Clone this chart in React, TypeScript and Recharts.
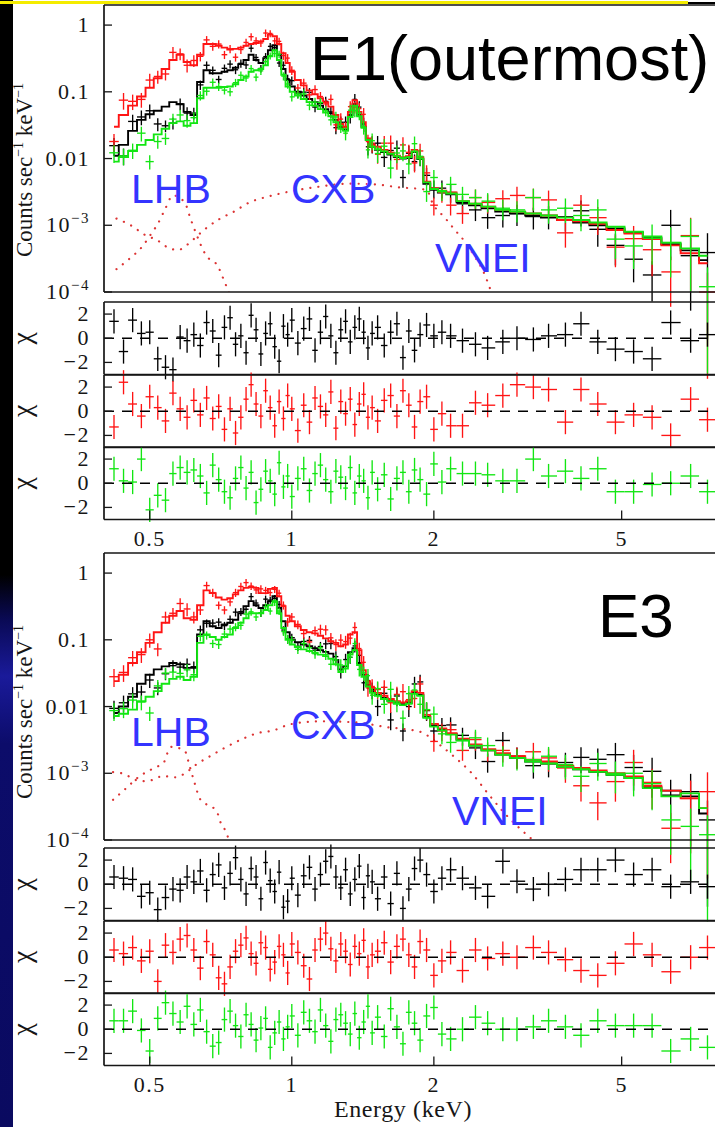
import React from 'react';
import { ComposedChart, Scatter, Line, XAxis, YAxis, ErrorBar, ReferenceLine } from 'recharts';

// energy bins (keV), shared by the spectra and the residual panels
const energy = [0.42, 0.44, 0.46, 0.48, 0.5, 0.52, 0.54, 0.56, 0.58, 0.6,
  0.62, 0.64, 0.66, 0.68, 0.7, 0.72, 0.74, 0.76, 0.78, 0.8, 0.82, 0.84, 0.86, 0.88, 0.9, 0.92, 0.94, 0.96, 0.98, 1.0,
  1.03, 1.06, 1.09, 1.12, 1.15, 1.18, 1.21, 1.24, 1.27, 1.3, 1.33, 1.36, 1.39, 1.42, 1.45, 1.48,
  1.52, 1.57, 1.62, 1.67, 1.72, 1.77, 1.82, 1.87, 1.93, 2.0, 2.08, 2.17,
  2.3, 2.45, 2.6, 2.8, 3.0, 3.25, 3.5, 3.8, 4.1, 4.45, 4.85, 5.3, 5.8, 6.35, 7.0, 7.6];

// fractional 1-sigma error of the counts in each bin
const relErr = [0.3, 0.28, 0.26, 0.25, 0.24, 0.22, 0.2, 0.2, 0.2, 0.22,
  0.2, 0.16, 0.14, 0.14, 0.14, 0.14, 0.14, 0.14, 0.14, 0.13, 0.13, 0.13, 0.13, 0.13, 0.12, 0.12, 0.13, 0.14, 0.15, 0.15,
  0.15, 0.16, 0.16, 0.16, 0.17, 0.17, 0.18, 0.2, 0.22, 0.22, 0.2, 0.2, 0.22, 0.24, 0.26, 0.28,
  0.28, 0.28, 0.3, 0.3, 0.3, 0.3, 0.28, 0.28, 0.3, 0.3, 0.3, 0.3,
  0.3, 0.32, 0.32, 0.34, 0.35, 0.36, 0.38, 0.4, 0.42, 0.45, 0.5, 0.55, 0.6, 0.7, 0.85, 0.95];

// ---- E1 (outermost) ----
const modelRedE1 = [0.03, 0.045, 0.062, 0.085, 0.115, 0.16, 0.22, 0.3, 0.36, 0.28,
  0.25, 0.36, 0.52, 0.52, 0.49, 0.46, 0.43, 0.44, 0.46, 0.49, 0.52, 0.54, 0.57, 0.62, 0.72, 0.68, 0.52, 0.38, 0.27, 0.2,
  0.15, 0.125, 0.105, 0.092, 0.08, 0.07, 0.06, 0.045, 0.033, 0.03, 0.05, 0.075, 0.05, 0.035, 0.02, 0.016,
  0.015, 0.0135, 0.0122, 0.011, 0.0105, 0.0108, 0.0135, 0.0105, 0.0045, 0.0036, 0.0033, 0.0031,
  0.0023, 0.0021, 0.0019, 0.0017, 0.0016, 0.0015, 0.0014, 0.0012, 0.00115, 0.00105, 0.00085, 0.00075, 0.00062, 0.0005, 0.00038, 0.00027];
const dataRedE1 = [0.018, 0.075, 0.072, 0.077, 0.15, 0.17, 0.185, 0.39, 0.37, 0.25,
  0.295, 0.34, 0.6, 0.48, 0.52, 0.36, 0.44, 0.33, 0.43, 0.55, 0.67, 0.58, 0.54, 0.76, 0.75, 0.58, 0.57, 0.35, 0.32, 0.21,
  0.114, 0.135, 0.09, 0.108, 0.085, 0.066, 0.077, 0.032, 0.039, 0.029, 0.06, 0.059, 0.056, 0.046, 0.018, 0.017,
  0.0116, 0.017, 0.017, 0.0097, 0.016, 0.0124, 0.0086, 0.013, 0.0061, 0.002, 0.0031, 0.002,
  0.0015, 0.0026, 0.0022, 0.0025, 0.0028, 0.0026, 0.0024, 0.00077, 0.002, 0.0013, 0.00047, 0.00063, 0.00043, 0.0002, 0.0007, 0.0001];
const modelBlackE1 = [0.011, 0.016, 0.026, 0.038, 0.046, 0.052, 0.06, 0.07, 0.065, 0.05,
  0.045, 0.14, 0.21, 0.19, 0.19, 0.2, 0.21, 0.23, 0.26, 0.3, 0.36, 0.3, 0.27, 0.32, 0.42, 0.5, 0.36, 0.22, 0.15, 0.12,
  0.1, 0.088, 0.078, 0.07, 0.062, 0.055, 0.048, 0.038, 0.03, 0.027, 0.045, 0.065, 0.045, 0.03, 0.019, 0.015,
  0.0135, 0.0125, 0.0115, 0.0105, 0.01, 0.0102, 0.0125, 0.0098, 0.0042, 0.0034, 0.0031, 0.0029,
  0.0022, 0.002, 0.0018, 0.0016, 0.0015, 0.0014, 0.0013, 0.0012, 0.0011, 0.001, 0.0009, 0.00078, 0.00065, 0.00052, 0.00042, 0.0003];
const dataBlackE1 = [0.0156, 0.011, 0.036, 0.042, 0.052, 0.033, 0.031, 0.034, 0.066, 0.048,
  0.048, 0.127, 0.25, 0.21, 0.153, 0.225, 0.26, 0.214, 0.267, 0.253, 0.45, 0.327, 0.224, 0.337, 0.48, 0.46, 0.27, 0.25, 0.157, 0.147,
  0.094, 0.099, 0.098, 0.059, 0.067, 0.072, 0.05, 0.029, 0.035, 0.035, 0.042, 0.077, 0.059, 0.033, 0.015, 0.0166,
  0.017, 0.0104, 0.0132, 0.0143, 0.0052, 0.012, 0.009, 0.0106, 0.0056, 0.0036, 0.0036, 0.0031,
  0.0021, 0.0017, 0.0013, 0.0014, 0.0015, 0.00135, 0.0014, 0.00134, 0.00165, 0.00087, 0.0005, 0.00031, 0.00018, 0.001, 0.00035, 0.00039];
const modelGreenE1 = [0.009, 0.0105, 0.013, 0.016, 0.019, 0.023, 0.028, 0.034, 0.036, 0.031,
  0.034, 0.08, 0.115, 0.115, 0.115, 0.118, 0.12, 0.13, 0.15, 0.17, 0.2, 0.21, 0.22, 0.25, 0.34, 0.42, 0.3, 0.18, 0.12, 0.1,
  0.088, 0.078, 0.07, 0.062, 0.055, 0.049, 0.043, 0.035, 0.028, 0.026, 0.042, 0.062, 0.043, 0.029, 0.019, 0.015,
  0.0138, 0.0128, 0.0118, 0.0108, 0.0102, 0.0105, 0.0128, 0.01, 0.0044, 0.0035, 0.0032, 0.003,
  0.0023, 0.0021, 0.0019, 0.0017, 0.0016, 0.0015, 0.0014, 0.0013, 0.0012, 0.0011, 0.00095, 0.0008, 0.00068, 0.00055, 0.00045, 0.00035];
const dataGreenE1 = [0.0122, 0.011, 0.0133, 0.024, 0.009, 0.018, 0.02, 0.039, 0.045, 0.037,
  0.041, 0.088, 0.102, 0.139, 0.12, 0.106, 0.1, 0.137, 0.177, 0.161, 0.223, 0.166, 0.206, 0.283, 0.348, 0.375, 0.366, 0.172, 0.131, 0.084,
  0.093, 0.093, 0.063, 0.07, 0.069, 0.052, 0.038, 0.042, 0.031, 0.024, 0.053, 0.052, 0.048, 0.03, 0.0135, 0.0185,
  0.0119, 0.0153, 0.0072, 0.0121, 0.013, 0.0083, 0.0167, 0.0108, 0.0032, 0.0052, 0.0033, 0.0041,
  0.0029, 0.0026, 0.0023, 0.0018, 0.0017, 0.0026, 0.0017, 0.0018, 0.0014, 0.0017, 0.00062, 0.00049, 0.00064, 0.00055, 0.00068, 0.00012];
const resBlackE1 = [1.4, -1.1, 1.5, 0.4, 0.5, -1.7, -2.4, -2.6, 0.1, -0.2,
  0.3, -0.6, 1.3, 0.6, -1.4, 0.9, 1.7, -0.5, 0.2, -1.2, 1.9, 0.7, -1.3, 0.4, 1.2, -0.7, -1.9, 1.0, 0.3, 1.5,
  -0.4, 0.8, 1.6, -1.0, 0.5, 1.8, 0.2, -1.2, 0.7, 1.4, -0.3, 0.9, 1.6, 0.5, -0.8, 0.4,
  0.9, -0.6, 0.5, 1.2, -1.6, 0.6, -1.0, 0.3, 1.1, 0.2, 0.5, 0.2,
  -0.2, -0.5, -0.8, -0.3, 0.0, -0.1, 0.2, 0.3, 1.2, -0.3, -0.9, -1.1, -1.7, 1.3, -0.2, 0.3];
const resRedE1 = [-1.3, 2.4, 0.6, -0.4, 1.2, 0.3, -0.8, 1.5, 0.2, -0.5,
  0.9, -0.3, 1.1, -0.6, 0.4, -1.5, 0.2, -1.8, -0.5, 1.0, 2.2, 0.6, -0.4, 1.7, 0.3, -1.2, 0.8, -0.6, 1.3, 0.2,
  -1.6, 0.5, -0.9, 1.1, 0.4, -0.3, 1.6, -1.4, 0.8, -0.2, 1.0, -1.1, 0.6, 1.4, -0.5, 0.3,
  -0.8, 0.9, 1.3, -0.4, 1.7, 0.5, -1.3, 0.8, 1.2, -1.5, -0.2, -1.2,
  -1.2, 0.7, 0.5, 1.3, 2.2, 2.0, 1.8, -0.9, 1.8, 0.6, -0.9, -0.3, -0.5, -2.0, 1.0, -0.7];
const resGreenE1 = [1.2, 0.2, 0.1, 2.0, -2.2, -1.0, -1.4, 0.8, 1.3, 0.9,
  1.1, 0.6, -0.8, 1.5, 0.3, -0.7, -1.2, 0.4, 1.3, -0.4, 0.9, -1.6, -0.5, 1.0, 0.2, -0.9, 1.7, -0.3, 0.6, -1.1,
  0.4, 1.2, -0.6, 0.8, 1.5, 0.3, -0.7, 1.0, 0.5, -0.4, 1.3, -0.8, 0.6, 0.2, -1.2, 0.9,
  -0.5, 0.7, -1.3, 0.4, 0.9, -0.7, 1.1, 0.3, -0.9, 1.6, 0.1, 1.2,
  0.8, 0.8, 0.7, 0.2, 0.2, 2.0, 0.6, 1.0, 0.4, 1.2, -0.7, -0.7, -0.1, 0.0, 0.6, -0.7];
// dotted model components
const broadE1E = [0.425, 0.458, 0.488, 0.518, 0.556, 0.576, 0.598, 0.618, 0.654, 0.701, 0.754, 0.811, 0.874, 0.948, 1.146, 1.327, 1.5, 1.69, 1.93, 1.99, 2.11, 2.21, 2.33, 2.44, 2.54, 2.66];
const broadE1V = [1.26e-3, 9.8e-4, 7.2e-4, 6.0e-4, 4.4e-4, 4.3e-4, 5.0e-4, 6.1e-4, 8.7e-4, 1.23e-3, 1.6e-3, 2.18e-3, 2.6e-3, 3.0e-3, 3.8e-3, 4.2e-3, 4.1e-3, 3.7e-3, 3.4e-3, 2.1e-3, 1.3e-3, 8.7e-4, 5.6e-4, 3.4e-4, 2.1e-4, 9e-5];
const lhbE1E = [0.425, 0.454, 0.481, 0.507, 0.518, 0.538, 0.56, 0.593, 0.61, 0.628, 0.657, 0.698, 0.721, 0.74];
const lhbE1V = [2.2e-4, 3.2e-4, 4.7e-4, 8.0e-4, 1.0e-3, 1.7e-3, 2.8e-3, 2.2e-3, 1.26e-3, 7.3e-4, 3.6e-4, 2.4e-4, 1.4e-4, 9e-5];

// ---- E3 ----
const modelRedE3 = [0.024, 0.03, 0.045, 0.065, 0.09, 0.13, 0.18, 0.23, 0.27, 0.21,
  0.2, 0.33, 0.55, 0.5, 0.43, 0.4, 0.42, 0.48, 0.55, 0.6, 0.62, 0.6, 0.5, 0.5, 0.58, 0.6, 0.45, 0.32, 0.23, 0.19,
  0.16, 0.14, 0.13, 0.125, 0.115, 0.105, 0.095, 0.09, 0.08, 0.085, 0.12, 0.13, 0.07, 0.035, 0.024, 0.019,
  0.016, 0.0145, 0.013, 0.012, 0.0115, 0.012, 0.017, 0.016, 0.0075, 0.0055, 0.0047, 0.004,
  0.0033, 0.0027, 0.0023, 0.002, 0.0018, 0.0016, 0.0015, 0.0013, 0.0012, 0.0011, 0.001, 0.0009, 0.00065, 0.00055, 0.00042, 0.0003];
const dataRedE3 = [0.028, 0.0325, 0.054, 0.06, 0.1, 0.073, 0.22, 0.25, 0.35, 0.29,
  0.22, 0.28, 0.65, 0.51, 0.33, 0.28, 0.37, 0.51, 0.63, 0.72, 0.64, 0.56, 0.58, 0.55, 0.51, 0.57, 0.5, 0.33, 0.185, 0.22,
  0.17, 0.124, 0.093, 0.137, 0.144, 0.141, 0.107, 0.085, 0.099, 0.094, 0.106, 0.153, 0.074, 0.046, 0.019, 0.02,
  0.018, 0.0194, 0.0114, 0.0152, 0.0167, 0.0127, 0.0132, 0.0218, 0.0089, 0.003, 0.0043, 0.0045,
  0.0022, 0.0032, 0.0022, 0.0022, 0.0018, 0.0021, 0.0017, 0.0012, 0.00065, 0.00036, 0.00075, 0.00145, 0.00073, 0.00015, 0.00042, 0.00053];
const modelBlackE3 = [0.008, 0.01, 0.014, 0.022, 0.03, 0.036, 0.04, 0.045, 0.043, 0.038,
  0.038, 0.12, 0.19, 0.16, 0.15, 0.17, 0.18, 0.2, 0.25, 0.32, 0.38, 0.33, 0.3, 0.33, 0.38, 0.45, 0.3, 0.19, 0.13, 0.1,
  0.092, 0.085, 0.08, 0.075, 0.07, 0.066, 0.062, 0.05, 0.036, 0.04, 0.065, 0.075, 0.045, 0.03, 0.021, 0.017,
  0.015, 0.0135, 0.0122, 0.0113, 0.0108, 0.0113, 0.016, 0.015, 0.007, 0.0052, 0.0045, 0.0039,
  0.0032, 0.0026, 0.0022, 0.0019, 0.0017, 0.0015, 0.0014, 0.00125, 0.00115, 0.00105, 0.00095, 0.00085, 0.00062, 0.00055, 0.00045, 0.00025];
const dataBlackE3 = [0.0094, 0.0114, 0.0155, 0.0165, 0.025, 0.019, 0.031, 0.041, 0.039, 0.043,
  0.0395, 0.141, 0.177, 0.178, 0.184, 0.163, 0.203, 0.26, 0.264, 0.287, 0.444, 0.356, 0.253, 0.407, 0.394, 0.418, 0.339, 0.14, 0.103, 0.1075,
  0.08, 0.0945, 0.098, 0.07, 0.0795, 0.087, 0.088, 0.056, 0.0336, 0.0506, 0.0546, 0.081, 0.0585, 0.0227, 0.0245, 0.0179,
  0.01, 0.0158, 0.0063, 0.0144, 0.0043, 0.01, 0.0218, 0.0234, 0.0087, 0.0043, 0.0052, 0.0053,
  0.0037, 0.0024, 0.0015, 0.0031, 0.0018, 0.0013, 0.0014, 0.00145, 0.00173, 0.00162, 0.0019, 0.00122, 0.00107, 0.00047, 0.00053, 0.0002];
const modelGreenE3 = [0.0072, 0.0078, 0.009, 0.012, 0.014, 0.017, 0.022, 0.026, 0.028, 0.025,
  0.028, 0.09, 0.12, 0.11, 0.1, 0.11, 0.12, 0.15, 0.18, 0.21, 0.25, 0.25, 0.25, 0.28, 0.33, 0.38, 0.25, 0.15, 0.1, 0.085,
  0.078, 0.072, 0.068, 0.064, 0.06, 0.057, 0.052, 0.043, 0.033, 0.037, 0.06, 0.07, 0.042, 0.028, 0.02, 0.016,
  0.0145, 0.013, 0.012, 0.011, 0.0105, 0.011, 0.0155, 0.0145, 0.0068, 0.005, 0.0044, 0.0038,
  0.0031, 0.0026, 0.0022, 0.0019, 0.0017, 0.0015, 0.0014, 0.00125, 0.00115, 0.00105, 0.00095, 0.00085, 0.0006, 0.00045, 0.0005, 0.0003];
const dataGreenE3 = [0.0087, 0.0093, 0.0125, 0.0117, 0.008, 0.0204, 0.0317, 0.0328, 0.0314, 0.0355,
  0.03, 0.113, 0.117, 0.088, 0.085, 0.122, 0.145, 0.156, 0.165, 0.243, 0.263, 0.22, 0.253, 0.313, 0.27, 0.366, 0.27, 0.133, 0.103, 0.099,
  0.072, 0.088, 0.076, 0.062, 0.076, 0.06, 0.043, 0.05, 0.042, 0.041, 0.055, 0.088, 0.036, 0.032, 0.029, 0.0148,
  0.0186, 0.0108, 0.0181, 0.0117, 0.0067, 0.0156, 0.0177, 0.0108, 0.009, 0.0077, 0.0039, 0.0029,
  0.0031, 0.0034, 0.0026, 0.0019, 0.0017, 0.0016, 0.0018, 0.00135, 0.0009, 0.0014, 0.001, 0.001, 0.0007, 0.0002, 0.00016, 0.00012];
const resBlackE3 = [0.6, 0.5, 0.4, -1.0, -0.7, -2.1, -1.1, -0.4, -0.5, 0.6,
  0.2, 1.1, -0.5, 0.8, 1.6, -0.3, 0.9, 2.2, 0.4, -0.8, 1.3, 0.6, -1.2, 1.8, 0.3, -0.6, 1.0, -1.9, -1.4, 0.5,
  -0.9, 0.7, 1.4, -0.4, 0.8, 1.9, 2.3, 0.6, -0.3, 1.2, -0.8, 0.4, 1.5, -1.1, 0.7, 0.2,
  -1.2, 0.6, -1.6, 0.9, -2.0, -0.4, 1.3, 2.0, 0.8, -0.6, 0.5, 1.2,
  0.5, -0.3, -1.0, 1.9, 0.25, -0.4, 0.0, 0.4, 1.2, 1.2, 2.0, 0.8, 1.2, -0.2, 0.2, -0.2];
const resRedE3 = [0.6, 0.3, 0.8, -0.3, 0.5, -2.0, 1.0, 0.4, 1.5, 1.8,
  0.6, -0.9, 1.3, 0.2, -1.7, -2.2, -0.8, 0.5, 1.0, 1.6, 0.3, -0.5, 1.2, 0.8, -1.0, -0.4, 0.9, 0.2, -1.3, 1.1,
  0.4, -0.7, -1.8, 0.6, 1.5, 2.0, 0.7, -0.3, 1.1, 0.5, -0.6, 0.9, 0.3, 1.4, -0.8, 0.2,
  0.5, 1.2, -0.4, 0.9, 1.5, 0.2, -0.8, 1.3, 0.6, -1.5, -0.3, 0.4,
  -1.1, 0.6, -0.1, 0.3, 0.0, 0.8, 0.4, -0.2, -1.1, -1.5, -0.5, 1.1, 0.2, -1.2, 0.0, 0.8];
const resGreenE3 = [0.7, 0.7, 1.5, -0.1, -1.8, 0.9, 2.2, 1.3, 0.6, 1.9,
  0.4, 1.6, -0.2, -1.4, -1.1, 0.8, 1.5, 0.3, -0.6, 1.2, 0.4, -0.9, 0.1, 0.9, -1.5, -0.3, 0.6, -0.8, 0.2, 1.1,
  -0.5, 1.4, 0.7, -0.2, 1.6, 0.3, -1.0, 0.8, 1.2, 0.5, -0.4, 1.3, -0.7, 0.6, 1.9, -0.3,
  1.0, -0.6, 1.7, 0.2, -1.2, 1.4, 0.5, -0.9, 1.1, 1.8, -0.4, -0.8,
  0.0, 1.0, 0.5, 0.0, 0.0, 0.2, 0.7, 0.2, -0.5, 0.7, 0.3, 0.3, 0.3, -1.8, -0.8, -1.5];
const broadE3E = [0.418, 0.436, 0.456, 0.476, 0.505, 0.533, 0.568, 0.59, 0.629, 0.677, 0.725, 0.784, 0.847, 0.916, 0.99, 1.146, 1.36, 1.597, 1.736, 1.886, 2.04, 2.214, 2.407, 2.602, 2.827, 3.3];
const broadE3V = [1.04e-3, 1.0e-3, 8.7e-4, 7.6e-4, 7.9e-4, 9.1e-4, 8.7e-4, 9.7e-4, 1.37e-3, 1.87e-3, 2.46e-3, 3.24e-3, 4.0e-3, 4.4e-3, 5.4e-3, 6.0e-3, 5.8e-3, 4.9e-3, 4.6e-3, 4.1e-3, 2.8e-3, 1.74e-3, 1.0e-3, 5.0e-4, 2.5e-4, 9e-5];
const lhbE3E = [0.418, 0.446, 0.472, 0.508, 0.536, 0.545, 0.556, 0.593, 0.608, 0.623, 0.638, 0.656, 0.681, 0.698, 0.707, 0.721, 0.74];
const lhbE3V = [4.0e-4, 6.0e-4, 8.65e-4, 1.18e-3, 1.47e-3, 2.0e-3, 2.49e-3, 2.17e-3, 1.25e-3, 7.0e-4, 4.2e-4, 3.5e-4, 3.07e-4, 2.4e-4, 1.8e-4, 1.44e-4, 9e-5];

// axis ticks
const xTicks = [0.5, 1, 2, 5];
const xTickText = ['0.5', '1', '2', '5'];
const xMinorTicks = [0.6, 0.7, 0.8, 0.9, 3, 4, 6, 7];
const specTicks = [1e-4, 1e-3, 0.01, 0.1, 1];
const specTickText = [['10', '−4'], ['10', '−3'], ['0.01', ''], ['0.1', ''], ['1', '']];
const specMinorTicks = [1e-4, 1e-3, 1e-2, 1e-1, 1]
  .flatMap((d) => [2, 3, 4, 5, 6, 7, 8, 9].map((k) => k * d))
  .filter((v) => v < 2);
const chiTicks = [-2, 0, 2];
const chiTickText = ['−2', '0', '2'];
const chiMinorTicks = [-1, 1];

const RED = '#ff1414';
const GREEN = '#12e612';
const BLACK = '#000000';
const BLUE = '#3434ff';
const INK = '#161616';
const DOTTED = '#dc3434';
const SERIF = '"Liberation Serif", "DejaVu Serif", serif';
const SANS = '"Liberation Sans", Arial, sans-serif';

const CHART_W = 720;
const PLOT_L = 104;
const PLOT_R = 718;
const X_DOMAIN = [0.4, 8];
const PAD = 4;
const THIN = 0.01; // axes need a non-zero size to be drawn

// half bin widths from the geometric midpoints of neighbouring bins
const xErr = energy.map((e, i) => {
  const lo = i === 0 ? e * e / Math.sqrt(e * energy[1]) : Math.sqrt(energy[i - 1] * e);
  const hi = i === energy.length - 1 ? e * e / Math.sqrt(e * energy[i - 1]) : Math.sqrt(e * energy[i + 1]);
  return [e - lo, hi - e];
});

const specRows = (vals: number[]) =>
  vals.map((v, i) => ({ e: energy[i], v, ex: xErr[i], ey: [v * relErr[i], v * relErr[i]] }));
const modelRows = (vals: number[]) => vals.map((v, i) => ({ e: energy[i], v }));
const resRows = (vals: number[]) => vals.map((v, i) => ({ e: energy[i], v, ex: xErr[i], ey: [1, 1] }));
const curveRows = (es: number[], vs: number[]) => es.map((e, i) => ({ e, v: vs[i] }));

const noDot = () => <g />;

function crosses(key: string, rows: any[], color: string) {
  return (
    <Scatter key={key} data={rows} dataKey="v" fill={color} shape={noDot} isAnimationActive={false}>
      <ErrorBar dataKey="ex" direction="x" width={0} stroke={color} strokeWidth={1.35} />
      <ErrorBar dataKey="ey" direction="y" width={0} stroke={color} strokeWidth={1.35} />
    </Scatter>
  );
}

function model(key: string, rows: any[], color: string) {
  return (
    <Line key={key} data={rows} dataKey="v" type="step" stroke={color} strokeWidth={1.9}
      dot={false} activeDot={false} isAnimationActive={false} />
  );
}

function dotted(key: string, rows: any[]) {
  return (
    <Line key={key} data={rows} dataKey="v" type="monotone" stroke={DOTTED} strokeWidth={2.2}
      strokeDasharray="0.1 8" strokeLinecap="round" dot={false} activeDot={false} isAnimationActive={false} />
  );
}

const tickFont = { fontFamily: SERIF, fontSize: 22, fill: INK, letterSpacing: 1.5 };

const xLabel = (p: any) => {
  const i = xTicks.indexOf(p.payload.value);
  return (
    <text x={p.x} y={p.y} dy={15} textAnchor="middle" {...tickFont}>
      {xTickText[i]}
    </text>
  );
};

const specLabel = (p: any) => {
  const i = specTicks.indexOf(p.payload.value);
  const [base, sup] = specTickText[i] ?? ['', ''];
  return (
    <text x={p.x} y={p.y} dy={7} textAnchor="end" {...tickFont}>
      {base}
      {sup && <tspan dy={-9} fontSize={15}>{sup}</tspan>}
    </text>
  );
};

const chiLabel = (p: any) => {
  const i = chiTicks.indexOf(p.payload.value);
  return (
    <text x={p.x} y={p.y} dy={7} textAnchor="end" {...tickFont}>
      {chiTickText[i]}
    </text>
  );
};

type AxisCfg = {
  log: boolean;
  domain: number[];
  major: number[];
  minor: number[];
  label: any;
  xLabels: boolean;
};

function frameAxes(c: AxisCfg) {
  const frame = { stroke: INK, strokeWidth: 1.7 };
  const tl = { stroke: INK, strokeWidth: 1.3 };
  const yScale = c.log ? 'log' : 'linear';
  const xCommon = { type: 'number' as const, scale: 'log' as const, domain: X_DOMAIN, allowDataOverflow: true, interval: 0, height: THIN };
  const yCommon = { type: 'number' as const, scale: yScale as any, domain: c.domain, allowDataOverflow: true, interval: 0, width: THIN };
  return [
    <XAxis key="xb" xAxisId={0} dataKey="e" orientation="bottom" {...xCommon} ticks={xTicks}
      tickSize={-9} tickMargin={20} axisLine={frame} tickLine={tl} tick={c.xLabels ? xLabel : false} />,
    <XAxis key="xbm" xAxisId="bm" orientation="bottom" {...xCommon} ticks={xMinorTicks}
      tickSize={-5} axisLine={false} tickLine={tl} tick={false} />,
    <XAxis key="xt" xAxisId="t" orientation="top" {...xCommon} ticks={xTicks}
      tickSize={-9} axisLine={frame} tickLine={tl} tick={false} />,
    <XAxis key="xtm" xAxisId="tm" orientation="top" {...xCommon} ticks={xMinorTicks}
      tickSize={-5} axisLine={false} tickLine={tl} tick={false} />,
    <YAxis key="yl" yAxisId={0} dataKey="v" orientation="left" {...yCommon} ticks={c.major}
      tickSize={-8} tickMargin={22} axisLine={frame} tickLine={tl} tick={c.label} />,
    <YAxis key="ylm" yAxisId="lm" orientation="left" {...yCommon} ticks={c.minor}
      tickSize={-4} axisLine={false} tickLine={tl} tick={false} />,
    <YAxis key="yr" yAxisId="r" orientation="right" {...yCommon} ticks={c.major}
      tickSize={-8} axisLine={frame} tickLine={tl} tick={false} />,
    <YAxis key="yrm" yAxisId="rm" orientation="right" {...yCommon} ticks={c.minor}
      tickSize={-4} axisLine={false} tickLine={tl} tick={false} />,
  ];
}

function panel(key: string, top: number, h: number, cfg: AxisCfg, series: any[]) {
  return (
    <div key={key} style={{ position: 'absolute', left: 0, top: top - PAD }}>
      <ComposedChart width={CHART_W} height={h + 2 * PAD}
        margin={{ top: PAD - 2 * THIN, bottom: PAD - 2 * THIN, left: PLOT_L - 2 * THIN, right: CHART_W - PLOT_R - 2 * THIN }}>
        {frameAxes(cfg)}
        {series}
      </ComposedChart>
    </div>
  );
}

const specCfg: AxisCfg = { log: true, domain: [1e-4, 2], major: specTicks, minor: specMinorTicks, label: specLabel, xLabels: false };
const chiCfg = (xLabels: boolean): AxisCfg => ({ log: false, domain: [-3, 3], major: chiTicks, minor: chiMinorTicks, label: chiLabel, xLabels });

function spectrum(key: string, top: number, d: any) {
  return panel(key, top, 287, specCfg, [
    dotted('lhb', curveRows(d.lhbE, d.lhbV)),
    dotted('broad', curveRows(d.broadE, d.broadV)),
    crosses('kd', specRows(d.dataBlack), BLACK),
    model('km', modelRows(d.modelBlack), BLACK),
    crosses('rd', specRows(d.dataRed), RED),
    model('rm', modelRows(d.modelRed), RED),
    crosses('gd', specRows(d.dataGreen), GREEN),
    model('gm', modelRows(d.modelGreen), GREEN),
  ]);
}

function residual(key: string, top: number, h: number, vals: number[], color: string, xLabels: boolean) {
  return panel(key, top, h, chiCfg(xLabels), [
    crosses('d', resRows(vals), color),
    <ReferenceLine key="zero" y={0} stroke={BLACK} strokeWidth={1.5} strokeDasharray="10 8" />,
  ]);
}

const RES_H = 72.5;
const topRes = [302, 302 + RES_H, 302 + 2 * RES_H];
const botRes = [848, 848 + RES_H, 848 + 2 * RES_H];

function YTitle({ y }: { y: number }) {
  return (
    <text transform={`translate(32,${y}) rotate(-90)`} textAnchor="middle" fontFamily={SERIF} fontSize={23} fill={INK}>
      Counts sec<tspan dy={-9} fontSize={14}>−1</tspan>
      <tspan dy={9}> keV</tspan>
      <tspan dy={-9} fontSize={14}>−1</tspan>
    </text>
  );
}

function Chi({ y }: { y: number }) {
  return (
    <text transform={`translate(31,${y}) rotate(-90)`} textAnchor="middle" fontFamily={SERIF} fontSize={28} fill={INK}>
      χ
    </text>
  );
}

export default function App() {
  return (
    <div style={{ position: 'absolute', left: 0, top: 0, width: 715, height: 1127, overflow: 'hidden', background: '#fff' }}>
      <style>{'.recharts-surface{overflow:visible}'}</style>
      {spectrum('s1', 5, {
        lhbE: lhbE1E, lhbV: lhbE1V, broadE: broadE1E, broadV: broadE1V,
        dataBlack: dataBlackE1, modelBlack: modelBlackE1, dataRed: dataRedE1, modelRed: modelRedE1,
        dataGreen: dataGreenE1, modelGreen: modelGreenE1,
      })}
      {residual('r1k', topRes[0], RES_H, resBlackE1, BLACK, false)}
      {residual('r1r', topRes[1], RES_H, resRedE1, RED, false)}
      {residual('r1g', topRes[2], RES_H, resGreenE1, GREEN, true)}
      {spectrum('s3', 553, {
        lhbE: lhbE3E, lhbV: lhbE3V, broadE: broadE3E, broadV: broadE3V,
        dataBlack: dataBlackE3, modelBlack: modelBlackE3, dataRed: dataRedE3, modelRed: modelRedE3,
        dataGreen: dataGreenE3, modelGreen: modelGreenE3,
      })}
      {residual('r3k', botRes[0], RES_H, resBlackE3, BLACK, false)}
      {residual('r3r', botRes[1], RES_H, resRedE3, RED, false)}
      {residual('r3g', botRes[2], RES_H, resGreenE3, GREEN, true)}

      <svg width={715} height={1127} style={{ position: 'absolute', left: 0, top: 0, pointerEvents: 'none' }}>
        <text x={310} y={80} fontFamily={SANS} fontSize={63} fill="#000">E1(outermost)</text>
        <text x={598} y={637} fontFamily={SANS} fontSize={62} fill="#000">E3</text>
        <text x={131} y={203} fontFamily={SANS} fontSize={41} fill={BLUE}>LHB</text>
        <text x={291} y={203} fontFamily={SANS} fontSize={41} fill={BLUE}>CXB</text>
        <text x={435} y={272} fontFamily={SANS} fontSize={41} fill={BLUE}>VNEI</text>
        <text x={131} y={746} fontFamily={SANS} fontSize={41} fill={BLUE}>LHB</text>
        <text x={291} y={739} fontFamily={SANS} fontSize={41} fill={BLUE}>CXB</text>
        <text x={452} y={825} fontFamily={SANS} fontSize={41} fill={BLUE}>VNEI</text>
        <YTitle y={170} />
        <YTitle y={712} />
        {[...topRes, ...botRes].map((t) => <Chi key={t} y={t + RES_H / 2} />)}
        <text x={403} y={1117} textAnchor="middle" fontFamily={SERIF} fontSize={24} letterSpacing={0.6} fill={INK}>Energy (keV)</text>
      </svg>

      <div style={{ position: 'absolute', left: 0, top: 0, width: 13, height: 1127,
        background: 'linear-gradient(to bottom, #000 0%, #000 51%, #0a0a55 55%, #1a1a9a 60%, #0c0c6a 66%, #0a0a60 100%)' }} />
      <div style={{ position: 'absolute', left: 0, top: 1, width: 688, height: 3, background: '#f4ec00' }} />
      <div style={{ position: 'absolute', left: 688, top: 2, width: 27, height: 2, background: '#000' }} />
    </div>
  );
}
